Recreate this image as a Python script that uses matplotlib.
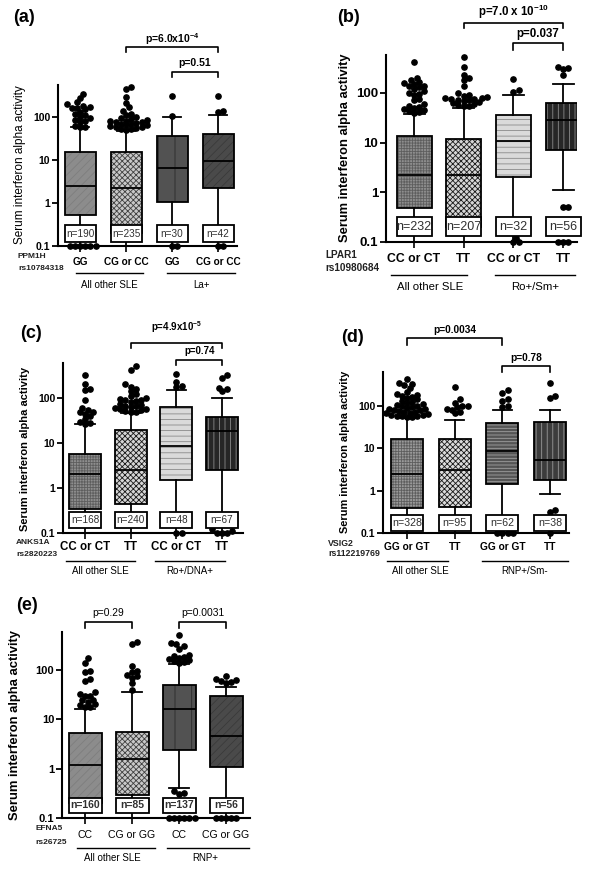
import matplotlib.pyplot as plt
import matplotlib.transforms as mtrans
from matplotlib.patches import PathPatch, Rectangle
from matplotlib.ticker import FixedLocator, FixedFormatter, NullLocator
import numpy as np

plt.rcParams['font.family'] = ['Liberation Sans', 'DejaVu Sans']
plt.rcParams['hatch.linewidth'] = 0.6
plt.rcParams['mathtext.fontset'] = 'custom'
plt.rcParams['mathtext.rm'] = 'Liberation Sans'
plt.rcParams['mathtext.bf'] = 'Liberation Sans:bold'

W, H = 600, 869

# ---------------- data ----------------
# (a) PPM1H rs10784318
a_cats = ['GG', 'CG or CC', 'GG', 'CG or CC']
a_groups = ['All other SLE', 'La+']
a_gene = ['PPM1H', 'rs10784318']
a_n = [190, 235, 30, 42]
a_q1 = [0.52, 0.2, 1.05, 2.2]
a_med = [2.5, 2.2, 6.5, 9.5]
a_q3 = [15, 15, 36, 40]
a_wlo = [0.1, 0.1, 0.1, 0.1]
a_whi = [58, 48, 100, 110]
a_fliers = [
    [340, 270, 220, 200, 185, 175, 165, 160, 150, 130, 120, 110, 100, 95, 85,
     80, 75, 62, 60, 58, 0.1, 0.1, 0.1, 0.1, 0.1, 0.1],
    [500, 450, 290, 210, 170, 140, 120, 110, 100, 95, 90, 85, 82, 80, 78, 75,
     72, 70, 68, 66, 64, 62, 60, 58, 56, 54, 52, 50],
    [300, 105, 0.1, 0.1],
    [310, 135, 130, 0.1, 0.1],
]
a_p = [r'p=6.0x10$^{\mathbf{-4}}$', 'p=0.51']

# (b) LPAR1 rs10980684
b_cats = ['CC or CT', 'TT', 'CC or CT', 'TT']
b_groups = ['All other SLE', 'Ro+/Sm+']
b_gene = ['LPAR1', 'rs10980684']
b_n = [232, 207, 32, 56]
b_q1 = [0.48, 0.2, 2.0, 7.0]
b_med = [2.2, 2.2, 10.5, 29]
b_q3 = [13.5, 12, 35, 62]
b_wlo = [0.1, 0.1, 0.1, 1.1]
b_whi = [38, 50, 90, 150]
b_fliers = [
    [420, 200, 180, 165, 160, 150, 140, 135, 130, 120, 110, 100, 95, 90, 75,
     70, 60, 55, 52, 50, 48, 46, 44, 42, 40],
    [530, 330, 230, 200, 180, 140, 100, 90, 85, 82, 80, 78, 76, 74, 72, 70,
     68, 65, 62, 60, 57, 55, 53],
    [185, 115, 105, 0.12, 0.1, 0.1],
    [330, 320, 300, 230, 0.5, 0.5, 0.1, 0.1, 0.1],
]
b_p = [r'p=7.0 x 10$^{\mathbf{-10}}$', 'p=0.037']

# (c) ANKS1A rs2820223
c_cats = ['CC or CT', 'TT', 'CC or CT', 'TT']
c_groups = ['All other SLE', 'Ro+/DNA+']
c_gene = ['ANKS1A', 'rs2820223']
c_n = [168, 240, 48, 67]
c_q1 = [0.34, 0.44, 1.5, 2.5]
c_med = [2.0, 2.5, 8.5, 18.5]
c_q3 = [5.7, 19, 63, 38]
c_wlo = [0.1, 0.1, 0.1, 0.1]
c_whi = [26, 47, 150, 100]
c_fliers = [
    [320, 200, 160, 150, 90, 60, 55, 50, 48, 45, 40, 35, 30, 28, 27],
    [520, 430, 200, 180, 160, 140, 120, 110, 100, 95, 92, 90, 85, 80, 75, 70,
     68, 65, 62, 60, 58, 56, 54, 52, 50, 48],
    [340, 230, 185, 175, 0.1, 0.1],
    [320, 280, 170, 160, 140, 0.12, 0.11, 0.1, 0.1, 0.1],
]
c_p = [r'p=4.9x10$^{\mathbf{-5}}$', 'p=0.74']

# (d) VSIG2 rs112219769
d_cats = ['GG or GT', 'TT', 'GG or GT', 'TT']
d_groups = ['All other SLE', 'RNP+/Sm-']
d_gene = ['VSIG2', 'rs112219769']
d_n = [328, 95, 62, 38]
d_q1 = [0.38, 0.42, 1.4, 1.8]
d_med = [2.4, 3.1, 8.5, 5.3]
d_q3 = [16, 16, 38, 42]
d_wlo = [0.1, 0.1, 0.1, 0.85]
d_whi = [50, 45, 80, 80]
d_fliers = [
    [420, 340, 330, 300, 260, 210, 190, 180, 170, 160, 150, 140, 130, 120, 115,
     110, 105, 100, 95, 90, 88, 85, 82, 80, 78, 75, 72, 70, 68, 65, 62, 60, 60,
     58, 58, 56, 55, 54],
    [270, 140, 115, 100, 95, 90, 85, 80, 70, 65],
    [230, 200, 140, 130, 100, 90, 0.1, 0.1, 0.1, 0.1],
    [340, 170, 150, 0.35, 0.32, 0.1],
]
d_p = ['p=0.0034', 'p=0.78']

# (e) EFNA5 rs26725
e_cats = ['CC', 'CG or GG', 'CC', 'CG or GG']
e_groups = ['All other SLE', 'RNP+']
e_gene = ['EFNA5', 'rs26725']
e_n = [160, 85, 137, 56]
e_q1 = [0.2, 0.29, 2.4, 1.1]
e_med = [1.2, 1.6, 16, 4.5]
e_q3 = [5.2, 5.4, 50, 30]
e_wlo = [0.1, 0.1, 0.4, 0.1]
e_whi = [16, 35, 130, 45]
e_fliers = [
    [170, 140, 95, 90, 65, 60, 35, 32, 30, 30, 25, 24, 22, 20, 19, 18, 18],
    [370, 340, 120, 95, 90, 80, 75, 70, 55, 40],
    [520, 350, 330, 300, 270, 200, 190, 185, 175, 165, 160, 150, 145, 140,
     0.35, 0.32, 0.3, 0.1, 0.1, 0.1, 0.1, 0.1, 0.1],
    [75, 65, 62, 60, 58, 55, 0.1, 0.1, 0.1, 0.1, 0.1],
]
e_p = ['p=0.29', 'p=0.0031']

YLABEL = 'Serum interferon alpha activity'

# box fill styles: (face, hatch, hatch colour)
STY_A = [('#8c8c8c', '////', '#7e7e7e'), ('#c8c8c8', 'xxxxxx', '#404040'),
         ('#525252', '|', '#2a2a2a'), ('#4a4a4a', '////', '#3a3a3a')]
STY_B = [('#8e8e8e', '++++++', '#5e5e5e'), ('#d6d6d6', 'xxxxxx', '#1a1a1a'),
         ('#dadada', '---', '#8a8a8a'), ('#262626', '|||', '#8a8a8a')]
STY_D = [('#9a9a9a', '++++++', '#5e5e5e'), ('#dcdcdc', 'xxxxxx', '#1a1a1a'),
         ('#555555', '-----', '#a0a0a0'), ('#3c3c3c', '|||', '#9a9a9a')]

fig = plt.figure(figsize=(W / 100, H / 100), dpi=100)


def fx(px):
    return px / W


def fy(py):
    return 1 - py / H


def swarm_x(ax, pos, vals, dot):
    """spread overlapping dots sideways, GraphPad style (a little overlap allowed)"""
    pts = ax.transData.transform(np.column_stack([np.full(len(vals), pos), vals]))
    unit = ax.transData.transform([[pos + 1, 1]])[0, 0] - pts[0, 0]
    ys = pts[:, 1]
    xs = np.zeros(len(vals))
    placed = []
    for i in np.argsort(ys):
        k = 0
        while True:
            off = ((k + 1) // 2) * (1 if k % 2 else -1) * dot * 0.5
            if all(np.hypot(off - px, ys[i] - py) >= dot * 0.88 for px, py in placed):
                break
            k += 1
        placed.append((off, ys[i]))
        xs[i] = pos + off / unit
    return xs


def draw_panel(box_px, c1, c4, ytop, q1, med, q3, wlo, whi, fliers, n, styles,
               cats, groups, gene, pvals, brackets, lay):
    L, T, R, B = box_px
    s = (c4 - c1) / 3.0
    ax = fig.add_axes([fx(L), fy(B), (R - L) / W, (B - T) / H])
    ax.set_yscale('log')
    ax.set_ylim(0.1, ytop)
    ax.set_xlim(1 - (c1 - L) / s, 4 + (R - c4) / s)
    pos = [1, 2, 3, 4]
    w = lay['bw'] / s

    stats = [dict(med=med[i], q1=q1[i], q3=q3[i], whislo=wlo[i], whishi=whi[i], fliers=[])
             for i in range(4)]
    lw = 1.3
    res = ax.bxp(stats, positions=pos, widths=w, capwidths=w * 0.6, patch_artist=True,
                 showfliers=False, manage_ticks=False, zorder=3,
                 boxprops=dict(facecolor='none', edgecolor='black', linewidth=lw),
                 whiskerprops=dict(color='black', linewidth=lw),
                 capprops=dict(color='black', linewidth=lw),
                 medianprops=dict(color='black', linewidth=lw))
    for box, (fc, hatch, hc) in zip(res['boxes'], styles):
        ax.add_patch(PathPatch(box.get_path(), transform=box.get_transform(),
                               facecolor=fc, hatch=hatch, edgecolor=hc, lw=0, zorder=2.9))

    # n boxes
    nlo, nhi = lay['nbox']
    for p, nn in zip(pos, n):
        ax.add_patch(Rectangle((p - w / 2, nlo), w, nhi - nlo, facecolor='white',
                               edgecolor='black', lw=lw, zorder=5, clip_on=False))
        ax.text(p, np.sqrt(nlo * nhi), f'n={nn}', ha='center', va='center',
                fontsize=lay['n_fs'], fontweight=lay['n_w'], color='#303030', zorder=6)

    for p, fl in zip(pos, fliers):
        xs = swarm_x(ax, p, fl, 5.2)
        ax.plot(xs, fl, 'o', color='black', ms=3.8, zorder=4, clip_on=False)

    for sp in ['top', 'right']:
        ax.spines[sp].set_visible(False)
    for sp in ['left', 'bottom']:
        ax.spines[sp].set_linewidth(1.5)
    ax.yaxis.set_major_locator(FixedLocator([0.1, 1, 10, 100]))
    ax.yaxis.set_major_formatter(FixedFormatter(['0.1', '1', '10', '100']))
    ax.yaxis.set_minor_locator(NullLocator())
    ax.tick_params(axis='y', length=4, width=1.3, pad=1.5, labelsize=lay['tick_fs'])
    for t in ax.get_yticklabels():
        t.set_fontweight('bold')
    ax.set_xticks(pos)
    ax.set_xticklabels([])
    ax.tick_params(axis='x', length=4, width=1.2)

    tr = mtrans.blended_transform_factory(ax.transData, fig.transFigure)
    for p, c in zip(pos, cats):
        fig.text(p, fy(lay['cat_y']), c, transform=tr, ha='center', va='center',
                 fontsize=lay['cat_fs'], fontweight=lay['cat_w'])
    gx, gy1, gy2 = lay['gene_xy']
    fig.text(fx(gx), fy(gy1), gene[0], ha='left', va='center', fontsize=lay['gene_fs'],
             fontweight='bold', color='#222222')
    fig.text(fx(gx), fy(gy2), gene[1], ha='left', va='center', fontsize=lay['gene_fs'],
             fontweight='bold', color='#222222')
    for (x0, x1), gtxt, gcx in zip(lay['grp_lines'], groups, lay['grp_cx']):
        fig.add_artist(plt.Line2D([fx(x0), fx(x1)], [fy(lay['grp_y'])] * 2,
                                  color='black', lw=1.0))
        fig.text(fx(gcx), fy(lay['grp_ty']), gtxt, ha='center', va='center',
                 fontsize=lay['grp_fs'])

    for (i, j, yl, yb, yt), ptxt in zip(brackets, pvals):
        xi, xj = pos[i], pos[j]
        fig.add_artist(plt.Line2D([xi, xi, xj, xj], [fy(yb), fy(yl), fy(yl), fy(yb)],
                                  transform=tr, color='black', lw=1.2))
        fig.text((xi + xj) / 2, fy(yt), ptxt, transform=tr, ha='center', va='center',
                 fontsize=lay['p_fs'], fontweight=lay['p_w'])

    yx, yy = lay['ylab_xy']
    fig.text(fx(yx), fy(yy), YLABEL, rotation=90, ha='center', va='center',
             fontsize=lay['ylab_fs'], fontweight=lay['ylab_w'])
    lx, ly = lay['label_xy']
    fig.text(fx(lx), fy(ly), lay['label'], ha='center', va='center', fontsize=13,
             fontweight='bold')
    return ax


draw_panel((58, 85, 237, 246), 80, 218, 555, a_q1, a_med, a_q3, a_wlo, a_whi, a_fliers,
           a_n, STY_A, a_cats, a_groups, a_gene, a_p,
           [(1, 3, 47, 52, 39), (2, 3, 72, 77, 63)],
           dict(bw=31, nbox=(0.123, 0.31), n_fs=7.2, n_w='normal', tick_fs=7.5,
                cat_y=262, cat_fs=7.2, cat_w='bold', gene_xy=(18, 257, 268), gene_fs=6,
                grp_lines=[(76, 143), (167, 235)], grp_cx=[109, 201], grp_y=273,
                grp_ty=285, grp_fs=7, p_fs=7.5, p_w='bold', ylab_xy=(20, 165),
                ylab_fs=8.5, ylab_w='normal', label_xy=(24, 17), label='(a)'))

draw_panel((386, 55, 577, 242), 414, 563, 575, b_q1, b_med, b_q3, b_wlo, b_whi, b_fliers,
           b_n, STY_B, b_cats, b_groups, b_gene, b_p,
           [(1, 3, 23, 28, 12), (2, 3, 43, 50, 34)],
           dict(bw=35, nbox=(0.13, 0.316), n_fs=9, n_w='normal', tick_fs=9.5,
                cat_y=259, cat_fs=8.8, cat_w='bold', gene_xy=(325, 255, 268), gene_fs=7.2,
                grp_lines=[(391, 467), (495, 575)], grp_cx=[430, 535], grp_y=275,
                grp_ty=287, grp_fs=8.2, p_fs=8.3, p_w='bold', ylab_xy=(345, 148),
                ylab_fs=9.3, ylab_w='bold', label_xy=(349, 18), label='(b)'))

draw_panel((63, 363, 243, 533), 85, 222, 600, c_q1, c_med, c_q3, c_wlo, c_whi, c_fliers,
           c_n, STY_B, c_cats, c_groups, c_gene, c_p,
           [(1, 3, 343, 348, 327), (2, 3, 360, 365, 351)],
           dict(bw=32, nbox=(0.13, 0.29), n_fs=7.2, n_w='normal', tick_fs=7.5,
                cat_y=547, cat_fs=8.3, cat_w='bold', gene_xy=(16, 543, 555), gene_fs=6,
                grp_lines=[(66, 135), (155, 225)], grp_cx=[100, 190], grp_y=561,
                grp_ty=571, grp_fs=7, p_fs=7, p_w='bold', ylab_xy=(25, 449),
                ylab_fs=8, ylab_w='bold', label_xy=(31, 334), label='(c)'))

draw_panel((383, 372, 569, 533), 407, 550, 616, d_q1, d_med, d_q3, d_wlo, d_whi, d_fliers,
           d_n, STY_D, d_cats, d_groups, d_gene, d_p,
           [(0, 2, 338, 345, 330), (2, 3, 366, 372, 358)],
           dict(bw=32, nbox=(0.11, 0.26), n_fs=7.7, n_w='normal', tick_fs=7.5,
                cat_y=547, cat_fs=7.3, cat_w='bold', gene_xy=(328, 543, 554), gene_fs=6.3,
                grp_lines=[(387, 448), (482, 568)], grp_cx=[420, 525], grp_y=561,
                grp_ty=571, grp_fs=7, p_fs=7.3, p_w='bold', ylab_xy=(345, 452),
                ylab_fs=7.9, ylab_w='bold', label_xy=(353, 337), label='(d)'))

draw_panel((62, 632, 250, 818), 85, 226, 585, e_q1, e_med, e_q3, e_wlo, e_whi, e_fliers,
           e_n, STY_A, e_cats, e_groups, e_gene, e_p,
           [(0, 1, 622, 628, 613), (2, 3, 622, 628, 613)],
           dict(bw=33, nbox=(0.126, 0.26), n_fs=7.5, n_w='bold', tick_fs=8,
                cat_y=835, cat_fs=7.6, cat_w='normal', gene_xy=(35, 829, 842), gene_fs=6,
                grp_lines=[(77, 155), (167, 249)], grp_cx=[112, 205], grp_y=848,
                grp_ty=858, grp_fs=7, p_fs=7.4, p_w='normal', ylab_xy=(15, 725),
                ylab_fs=9.4, ylab_w='bold', label_xy=(27, 605), label='(e)'))

fig.savefig('out.png', dpi=100, facecolor='white')
